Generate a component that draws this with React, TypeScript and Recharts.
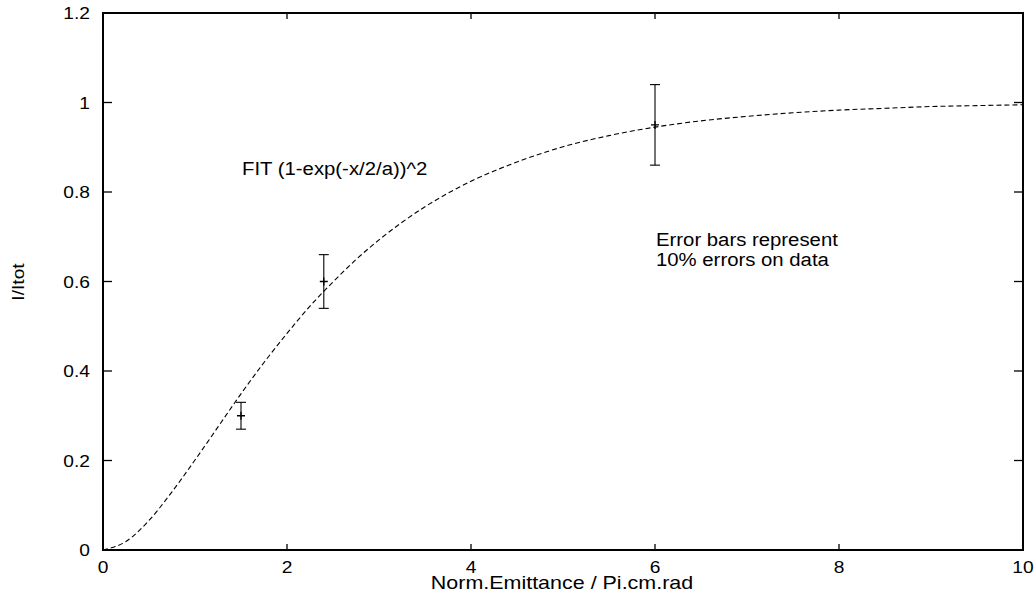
import { ComposedChart, Line, Scatter, ErrorBar, XAxis, YAxis, ReferenceArea } from 'recharts';

// measured beam fraction vs normalised emittance, with the (1-exp(-x/2/a))^2 fit

const xTicks = [0, 2, 4, 6, 8, 10];
const yTicks = [0, 0.2, 0.4, 0.6, 0.8, 1, 1.2];

// fitted curve
const fitX = [0, 0.25, 0.5, 0.75, 1, 1.25, 1.5, 1.75, 2, 2.25, 2.5, 2.75, 3, 3.5, 4, 4.5, 5, 5.5, 6, 6.5, 7, 7.5, 8, 8.5, 9, 9.5, 10];
const fitY = [0, 0.019, 0.066, 0.13, 0.201, 0.275, 0.349, 0.419, 0.484, 0.545, 0.599, 0.649, 0.693, 0.767, 0.824, 0.867, 0.901, 0.926, 0.945, 0.959, 0.969, 0.977, 0.983, 0.987, 0.991, 0.993, 0.995];

// data points with 10% error bars
const dataX = [1.5, 2.4, 6];
const dataY = [0.3, 0.6, 0.95];
const dataErr = [0.03, 0.06, 0.09];

const fit = fitX.map((x, i) => ({ x, y: fitY[i] }));
const points = dataX.map((x, i) => ({ x, y: dataY[i], err: dataErr[i] }));

const W = 1036;
const H = 593;
const M = { top: 13, right: 13, bottom: 0, left: 0 };
const Y_W = 103;
const X_H = 43;
const LEFT = M.left + Y_W;
const RIGHT = W - M.right;
const TOP = M.top;
const BOTTOM = H - M.bottom - X_H;

const FONT = '"Liberation Sans", Arial, Helvetica, sans-serif';
const SX = 1.13; // the original text is a bit wider than Arial

const fmt = (v: number) => String(Number(v.toFixed(1)));

function Txt({ x, y, size, anchor = 'start', rotate = 0, children }: any) {
  return (
    <text
      transform={`translate(${x},${y}) rotate(${rotate}) scale(${SX},1)`}
      fontFamily={FONT}
      fontSize={size}
      textAnchor={anchor}
      fill="#000"
    >
      {children}
    </text>
  );
}

// y ticks: inward on the left and mirrored on the right
function YTick(props: any) {
  const { y, payload } = props;
  return (
    <g>
      <line x1={LEFT} x2={LEFT + 9} y1={y} y2={y} stroke="#000" strokeWidth={1.3} />
      <line x1={RIGHT} x2={RIGHT - 9} y1={y} y2={y} stroke="#000" strokeWidth={1.3} />
      <Txt x={LEFT - 13} y={y + 6} size={17} anchor="end">{fmt(payload.value)}</Txt>
    </g>
  );
}

// x ticks: inward on the bottom and mirrored on top
function XTick(props: any) {
  const { x, payload } = props;
  return (
    <g>
      <line x1={x} x2={x} y1={BOTTOM} y2={BOTTOM - 6} stroke="#000" strokeWidth={1.3} />
      <line x1={x} x2={x} y1={TOP} y2={TOP + 6} stroke="#000" strokeWidth={1.3} />
      <Txt x={x} y={BOTTOM + 23} size={17} anchor="middle">{fmt(payload.value)}</Txt>
    </g>
  );
}

function Plus(props: any) {
  const { cx, cy } = props;
  return <path d={`M${cx - 4},${cy}h8M${cx},${cy - 4}v8`} stroke="#000" strokeWidth={1.3} fill="none" />;
}

export default function App() {
  return (
    <div style={{ position: 'absolute', left: 0, top: 0, width: W, height: H, background: '#fff' }}>
      <ComposedChart width={W} height={H} margin={M}>
        <XAxis
          dataKey="x"
          type="number"
          domain={[0, 10]}
          ticks={xTicks}
          height={X_H}
          tickLine={false}
          tick={<XTick />}
          axisLine={false}
          allowDataOverflow
        />
        <YAxis
          dataKey="y"
          type="number"
          domain={[0, 1.2]}
          ticks={yTicks}
          width={Y_W}
          tickLine={false}
          tick={<YTick />}
          axisLine={false}
          allowDataOverflow
        />
        <ReferenceArea x1={0} x2={10} y1={0} y2={1.2} fill="none" stroke="#000" strokeWidth={2} ifOverflow="visible" />
        <Line
          data={fit}
          dataKey="y"
          type="monotone"
          stroke="#000"
          strokeWidth={1.1}
          strokeDasharray="5 3"
          dot={false}
          activeDot={false}
          isAnimationActive={false}
        />
        <Scatter data={points} dataKey="y" shape={<Plus />} isAnimationActive={false}>
          <ErrorBar dataKey="err" direction="y" width={5} stroke="#000" strokeWidth={1.1} isAnimationActive={false} />
        </Scatter>
      </ComposedChart>
      <svg width={W} height={H} style={{ position: 'absolute', left: 0, top: 0, pointerEvents: 'none' }}>
        <Txt x={242} y={175} size={18}>FIT (1-exp(-x/2/a))^2</Txt>
        <Txt x={656} y={246} size={18}>Error bars represent</Txt>
        <Txt x={656} y={266} size={18}>10% errors on data</Txt>
        <Txt x={562} y={589} size={19} anchor="middle">Norm.Emittance / Pi.cm.rad</Txt>
        <Txt x={24} y={282} size={17} anchor="middle" rotate={-90}>I/Itot</Txt>
      </svg>
    </div>
  );
}
